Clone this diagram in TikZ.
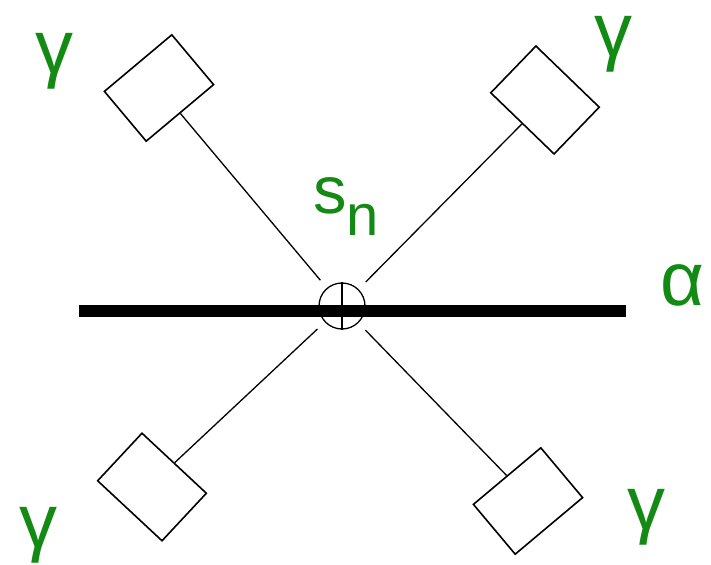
\documentclass[tikz,border=0pt]{standalone}
\usepackage{fontspec}
\setmainfont{Liberation Sans}
\usetikzlibrary{positioning}
\definecolor{grn}{HTML}{138A13}
\tikzset{
  cell/.style={draw,line width=1.6pt,minimum width=88pt,minimum height=65pt,inner sep=0pt},
  lbl/.style={text=grn,inner sep=0pt,font=\fontsize{76}{80}\selectfont},
  arm/.style={draw,line width=1.3pt,shorten >=10pt},
  bar/.style={draw,line width=12pt},
}

\begin{document}
\begin{tikzpicture}[x=1pt,y=-1pt]
\useasboundingbox (0,0) rectangle (711,564);
\coordinate (aL) at (79,311);
\coordinate (aR) at (626,311);
\draw[bar] (aL) -- (aR);
\node[circle,draw,line width=1.3pt,minimum size=46pt,inner sep=0pt] (sn) at (342,306) {};
\draw[line width=1.3pt] (sn.north) -- (sn.south);
\node[cell,rotate=40] (tl) at (159,88) {};
\node[cell,rotate=-44] (tr) at (545,100) {};
\node[cell,rotate=-43] (bl) at (152,487) {};
\node[cell,rotate=40] (br) at (528,501) {};
\draw[arm] (tl.south) -- (sn);
\draw[arm] (tr.south) -- (sn);
\draw[arm] (bl.north) -- (sn);
\draw[arm] (br.north) -- (sn);
\node[lbl] (g1) at (54,61) {γ};
\node[lbl] (g2) at (613,44) {γ};
\node[lbl] (g3) at (38,535) {γ};
\node[lbl] (g4) at (646,517) {γ};
\node[lbl] (al) at (682,285) {α};
\node[lbl,font=\fontsize{67}{70}\selectfont] (sl) at (346,207) {s\raisebox{-22pt}{\fontsize{58}{60}\selectfont n}};
\end{tikzpicture}
\end{document}
